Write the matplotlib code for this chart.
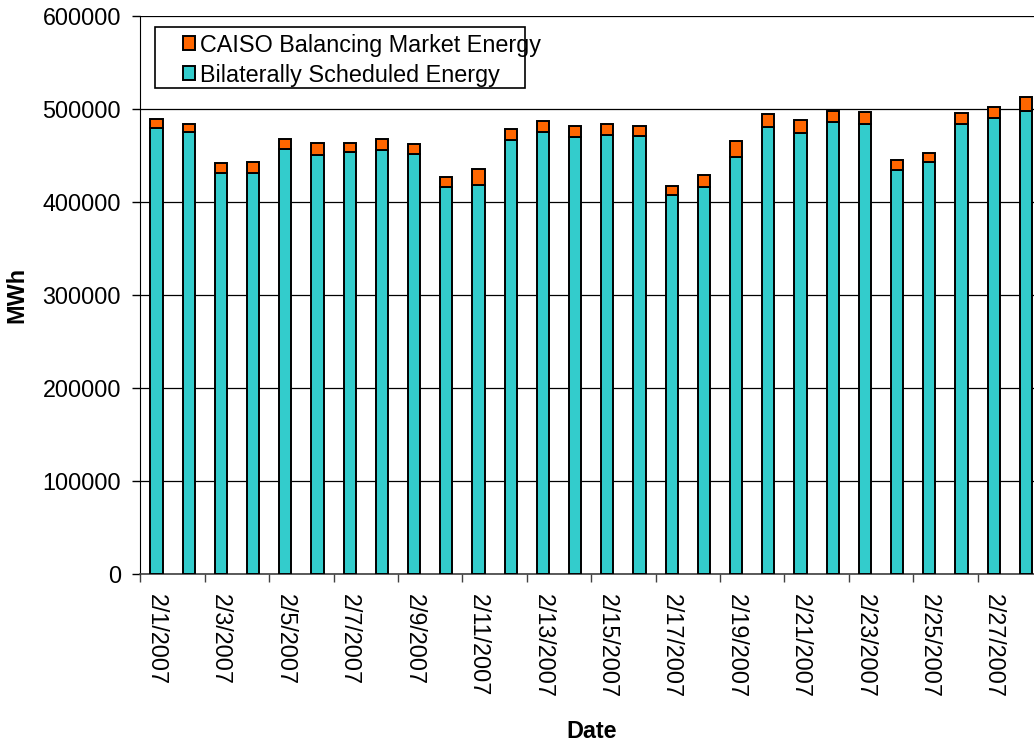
import matplotlib
matplotlib.use('Agg')
import matplotlib.pyplot as plt
from matplotlib.patches import Rectangle
import numpy as np

plt.rcParams['font.family'] = ['Liberation Sans', 'DejaVu Sans']

dates = ['2/%d/2007' % d for d in range(1, 29)]

bilateral = [479400, 474800, 431400, 431400, 456800, 450700, 453300, 456100,
             451800, 416000, 418500, 466500, 475400, 469700, 472200, 471100,
             407100, 416000, 448200, 480500, 474300, 486100, 484000, 434300,
             443200, 483400, 490100, 497600]

balancing = [10000, 9200, 10400, 11100, 10800, 12600, 10300, 11100,
             10700, 10400, 17200, 11800, 11500, 12100, 11500, 10400,
             10000, 12600, 17200, 14200, 14000, 11200, 12900, 10400,
             9000, 11800, 11500, 15400]

yticks = [0, 100000, 200000, 300000, 400000, 500000, 600000]

teal = '#33CCCC'
orange = '#FF6600'
fs = 16.8

fig = plt.figure(figsize=(10.34, 7.48), dpi=100)
ax = fig.add_axes([0.1357, 0.2322, 0.8721, 0.7468])

x = np.arange(len(dates)) + 0.5
b1 = ax.bar(x, bilateral, width=0.38, color=teal, edgecolor='black',
            linewidth=1.4, zorder=3, label='Bilaterally Scheduled Energy')
b2 = ax.bar(x, balancing, bottom=bilateral, width=0.38, color=orange,
            edgecolor='black', linewidth=1.4, zorder=3,
            label='CAISO Balancing Market Energy')

ax.set_xlim(0, len(dates))
ax.set_ylim(0, 600000)
ax.set_yticks(yticks)
ax.set_yticklabels([str(v) for v in yticks], fontsize=fs)
ax.yaxis.grid(True, color='black', linewidth=0.9, zorder=0)
ax.set_axisbelow(True)

ax.set_xticks(x[::2])
ax.set_xticklabels(dates[::2], rotation=270, fontsize=fs)
ax.set_xticks(np.arange(0, len(dates) + 1, 2), minor=True)
ax.tick_params(axis='x', which='major', length=0, pad=14)
ax.tick_params(axis='x', which='minor', length=5.5, width=1, color='#404040')
ax.tick_params(axis='y', length=5.8, width=1, pad=8)

for s in ['top', 'right']:
    ax.spines[s].set_visible(False)
ax.spines['left'].set_color('black')
ax.spines['bottom'].set_color('#404040')
ax.spines['bottom'].set_linewidth(1.2)

ax.set_ylabel('MWh', fontsize=fs, fontweight='bold', labelpad=10)
ax.set_xlabel('Date', fontsize=fs, fontweight='bold', labelpad=16)

# legend box drawn by hand to get the Excel look
ax.add_patch(Rectangle((0.0163, 0.8706), 0.4103, 0.1092, transform=ax.transAxes,
                       facecolor='white', edgecolor='black', linewidth=1.2,
                       zorder=5, clip_on=False))
leg = ax.legend(handles=[b2, b1], loc='upper left', bbox_to_anchor=(0.047, 0.968),
                frameon=False, fontsize=fs, borderpad=0, borderaxespad=0,
                handlelength=0.53, handleheight=0.53, handletextpad=0.2,
                labelspacing=0.3)
leg.set_zorder(6)

fig.savefig('out.png', dpi=100)
